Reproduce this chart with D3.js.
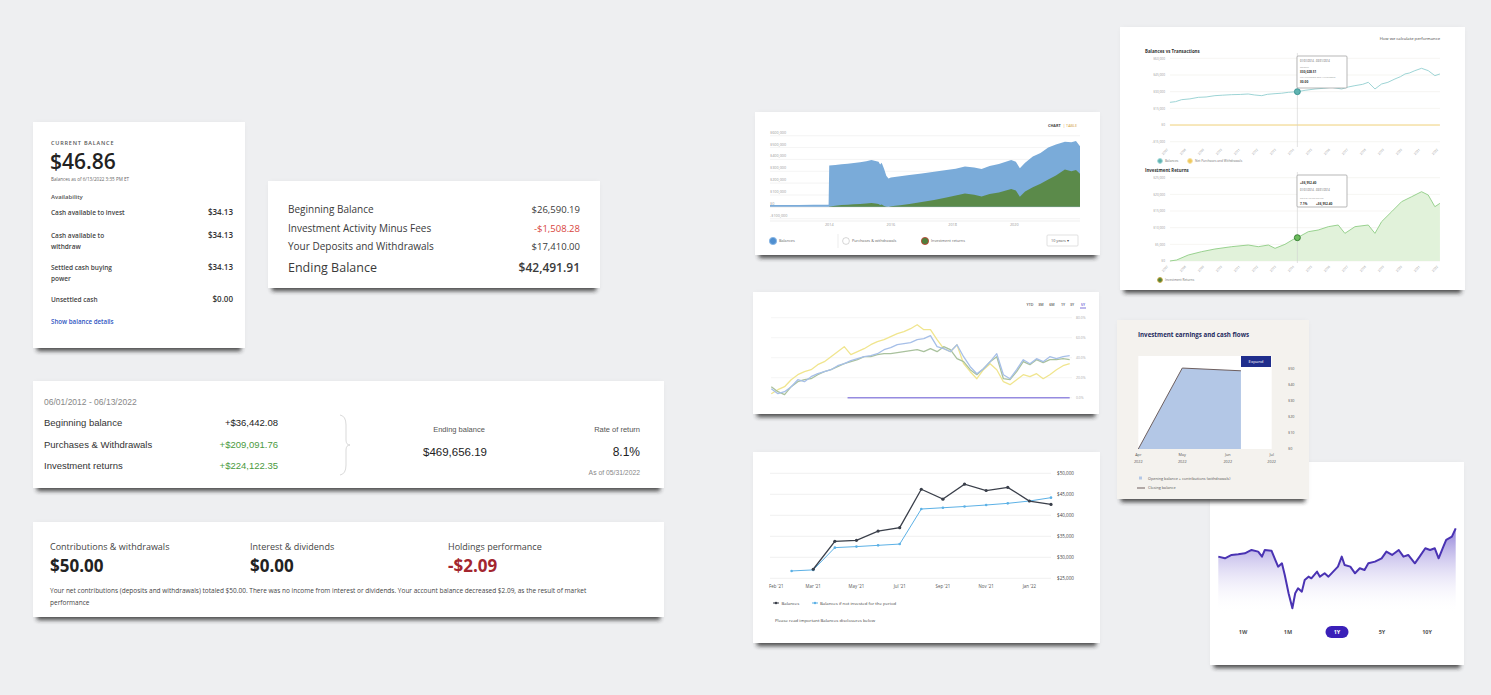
<!DOCTYPE html>
<html>
<head>
<meta charset="utf-8">
<script src="https://cdn.jsdelivr.net/npm/d3@7"></script>
<style>
  html, body { margin: 0; padding: 0; background: #eeeff1; }
  svg { display: block; }
</style>
</head>
<body>
<script>
// ---------------- data ----------------

// current balance card
const currentBalance = "$46.86";
const balanceStamp = "Balances as of 6/13/2022 3:35 PM ET";
const availLabels = [["Cash available to invest"], ["Cash available to", "withdraw"], ["Settled cash buying", "power"], ["Unsettled cash"]];
const availValues = ["$34.13", "$34.13", "$34.13", "$0.00"];

// statement card
const stmtLabels = ["Beginning Balance", "Investment Activity Minus Fees", "Your Deposits and Withdrawals", "Ending Balance"];
const stmtValues = ["$26,590.19", "-$1,508.28", "$17,410.00", "$42,491.91"];

// period card
const periodRange = "06/01/2012 - 06/13/2022";
const periodLabels = ["Beginning balance", "Purchases & Withdrawals", "Investment returns"];
const periodValues = ["+$36,442.08", "+$209,091.76", "+$224,122.35"];
const endingBalance = "$469,656.19";
const rateOfReturn = "8.1%";
const rateAsOf = "As of 05/31/2022";

// summary card
const summaryLabels = ["Contributions & withdrawals", "Interest & dividends", "Holdings performance"];
const summaryValues = ["$50.00", "$0.00", "-$2.09"];
const summaryNote = [
  "Your net contributions (deposits and withdrawals) totaled $50.00. There was no income from interest or dividends. Your account balance decreased $2.09, as the result of market",
  "performance"
];

// chart A: balances vs investment returns (thousands of $)
const histYears = [2012.08, 2012.5, 2013.0, 2013.5, 2013.98, 2014.0, 2014.2, 2014.4, 2014.6, 2014.8,
  2015.0, 2015.2, 2015.37, 2015.5, 2015.6, 2015.65, 2015.7, 2015.78, 2015.85, 2015.92,
  2016.0, 2016.3, 2016.6, 2017.0, 2017.4, 2017.8, 2018.1, 2018.4, 2018.7, 2018.94,
  2019.2, 2019.5, 2019.9, 2020.05, 2020.18, 2020.35, 2020.6, 2020.85, 2021.1, 2021.35,
  2021.64, 2021.85, 2022.0, 2022.13];
const histBalance = [15, 15, 16, 17, 18, 348, 352, 360, 364, 370,
  376, 384, 396, 386, 380, 358, 372, 320, 262, 240,
  248, 258, 268, 282, 296, 310, 322, 340, 332, 320,
  345, 362, 396, 380, 325, 372, 424, 455, 500, 525,
  550, 545, 556, 512];
const histReturns = [0, 0, 0, 0, 0, 3, 10, 15, 18, 22,
  24, 28, 33, 28, 25, 15, 20, 8, 2, 0,
  4, 14, 24, 40, 58, 78, 95, 112, 102, 88,
  108, 122, 150, 138, 85, 130, 165, 195, 230, 265,
  315, 300, 310, 280];
const histTicksY = [600, 500, 400, 300, 200, 100, 0, -100];
const histTicksX = [2014, 2016, 2018, 2020];
const histLegend = ["Balances", "Purchases & withdrawals", "Investment returns"];

// chart B: balances vs transactions / investment returns (thousands of $)
const perfYears = [2007.09, 2007.4, 2007.74, 2008.2, 2008.67, 2009.1, 2009.59, 2010.0, 2010.52, 2011.0,
  2011.44, 2011.8, 2012.19, 2012.5, 2012.93, 2013.3, 2013.67, 2014.17, 2014.6, 2015.15,
  2015.6, 2016.07, 2016.63, 2017.0, 2017.37, 2017.8, 2018.11, 2018.48, 2018.85, 2019.2,
  2019.59, 2019.9, 2020.15, 2020.4, 2020.7, 2021.07, 2021.44, 2021.81, 2022.09];
const perfBalance = [20.4, 21.0, 22.8, 23.5, 24.9, 25.2, 26.4, 26.8, 27.3, 27.5,
  27.9, 27.0, 26.4, 27.6, 28.2, 28.6, 29.4, 30.0, 31.2, 32.4,
  33.0, 33.9, 32.4, 34.2, 35.4, 36.6, 38.4, 32.4, 36.9, 38.4,
  41.4, 43.5, 45.9, 46.8, 48.9, 51.0, 48.9, 44.4, 45.9];
const flowYears = [2007.09, 2022.09];
const flowValues = [0, 0];
const retYears = [2007.09, 2007.46, 2008.11, 2008.85, 2009.59, 2010.52, 2011.44, 2012.0, 2012.56, 2012.93,
  2013.48, 2014.04, 2014.17, 2014.78, 2015.33, 2015.89, 2016.44, 2016.81, 2017.37, 2018.11,
  2018.48, 2018.85, 2019.41, 2019.96, 2020.52, 2021.07, 2021.44, 2021.81, 2022.09];
const retValues = [0, 0.3, 1.8, 2.8, 3.6, 4.3, 4.8, 4.3, 4.8, 3.8,
  5.0, 6.8, 7.0, 8.8, 9.3, 10.3, 10.8, 8.3, 10.3, 10.8,
  8.3, 11.8, 14.8, 17.8, 19.3, 20.8, 19.8, 16.3, 17.3];
const perfTicksX = [2007, 2008, 2009, 2010, 2011, 2012, 2013, 2014, 2015, 2016, 2017, 2018, 2019, 2020, 2021, 2022];
const balTicksY = [60, 45, 30, 15, 0, -15];
const retTicksY = [25, 20, 15, 10, 5, 0];
const markerYear = 2014.17;
const tipTop = ["01/01/2014 - 03/31/2014", "Balance", "$30,028.51", "Net Purchases and Withdrawals", "$0.00"];
const tipBottom = ["+$6,952.40", "01/01/2014 - 03/31/2014", "Rate of return", "Return", "7.1%", "+$6,952.40"];

// chart C: cumulative return comparison (%)
const compareYellow = [4, 8, 11, 18, 23, 26, 28, 33, 36, 41, 46, 51, 43, 46, 49, 53, 56, 58, 61, 64,
  66, 69, 73, 68, 68, 58, 49, 46, 53, 34, 26, 19, 28, 34, 28, 16, 13, 18, 23, 21,
  24, 19, 23, 28, 32, 34];
const compareBlue = [9, 4, 6, 11, 18, 16, 21, 24, 26, 28, 32, 34, 37, 39, 41, 42, 44, 48, 50, 53,
  54, 55, 58, 59, 62, 51, 49, 46, 53, 41, 31, 24, 29, 36, 44, 23, 19, 28, 38, 34,
  39, 36, 41, 39, 41, 42];
const compareGreen = [11, 6, 3, 11, 16, 18, 19, 23, 26, 28, 31, 34, 36, 38, 41, 41, 43, 44, 44, 45,
  46, 47, 48, 46, 49, 46, 51, 48, 39, 36, 28, 23, 29, 36, 41, 19, 18, 26, 36, 33,
  38, 35, 38, 38, 39, 38];
const compareTicks = [80, 60, 40, 20, 0];
const compareButtons = ["YTD", "3M", "6M", "1Y", "3Y", "5Y"];
const rangeBar = [11.5, 45];

// chart D: balances vs not invested (thousands of $)
const months = ["Jan '21", "Feb '21", "Mar '21", "Apr '21", "May '21", "Jun '21", "Jul '21",
  "Aug '21", "Sep '21", "Oct '21", "Nov '21", "Dec '21", "Jan '22", "Feb '22"];
const notInvestedMonths = months.slice(1);
const notInvested = [26.75, 27.0, 32.3, 32.55, 32.85, 33.15, 41.5, 41.8, 42.1, 42.45, 42.85, 43.4, 44.2];
const balanceMonths = months.slice(2);
const balances = [27.15, 33.8, 34.05, 36.25, 37.05, 46.2, 43.85, 47.4, 45.9, 46.65, 43.4, 42.6];
const balTicks = [50, 45, 40, 35, 30, 25];
const monthTicks = ["Feb '21", "Mar '21", "May '21", "Jul '21", "Sep '21", "Nov '21", "Jan '22"];
const monthTickSlots = ["Jan '21", "Mar '21", "May '21", "Jul '21", "Sep '21", "Nov '21", "Jan '22"];

// chart E: investment earnings and cash flows ($)
const flowDates = ["2022-04-01", "2022-05-01", "2022-06-10"];
const flowBalance = [0, 50.4, 48.7];
const earnTicksY = [50, 40, 30, 20, 10, 0];
const earnTicksX = ["2022-04-01", "2022-05-01", "2022-06-01", "2022-07-01"];

// chart F: one-year price index
const priceDays = [0, 7, 14, 21, 28, 35, 42, 46, 49, 56, 60, 63, 67, 70, 74, 78, 81, 84, 88, 91,
  95, 98, 104, 107, 112, 116, 121, 126, 130, 133, 139, 144, 149, 154, 158, 165, 172, 177, 183, 190,
  195, 200, 207, 212, 218, 223, 228, 232, 237, 240, 246, 250];
const priceValues = [210, 205, 215, 217, 220, 230, 225, 210, 230, 228, 200, 180, 190, 155, 100, 55, 100, 115, 105, 140,
  150, 145, 165, 150, 160, 150, 165, 180, 210, 185, 180, 160, 175, 170, 190, 195, 205, 225, 215, 230,
  210, 215, 190, 210, 235, 230, 235, 205, 240, 260, 270, 295];
const periodButtons = ["1W", "1M", "1Y", "5Y", "10Y"];

// ---------------- drawing ----------------
const W = 1491, H = 695;
const svg = d3.select("body").append("svg").attr("width", W).attr("height", H);
const defs = svg.append("defs");
defs.append("filter").attr("id", "drop").attr("x", "-5%").attr("y", "-150%").attr("width", "110%").attr("height", "400%")
  .append("feGaussianBlur").attr("stdDeviation", 2);
defs.append("filter").attr("id", "soft").attr("x", "-10%").attr("y", "-10%").attr("width", "120%").attr("height", "120%")
  .append("feGaussianBlur").attr("stdDeviation", 3);
const grad = defs.append("linearGradient").attr("id", "purpleFill").attr("x1", 0).attr("y1", 0).attr("x2", 0).attr("y2", 1);
grad.append("stop").attr("offset", "0%").attr("stop-color", "#7d6bd2").attr("stop-opacity", 0.85);
grad.append("stop").attr("offset", "100%").attr("stop-color", "#ffffff").attr("stop-opacity", 0);

svg.append("rect").attr("width", W).attr("height", H).attr("fill", "#eeeff1");

const SANS = "'Open Sans', sans-serif";
const ARIAL = "'Liberation Sans', Arial, sans-serif";

function card(x, y, w, h, fill) {
  const g = svg.append("g");
  g.append("rect").attr("x", x + 2).attr("y", y + 2).attr("width", w - 4).attr("height", h)
    .attr("fill", "#000").attr("opacity", 0.07).attr("filter", "url(#soft)");
  g.append("rect").attr("x", x + 4).attr("y", y + h - 4).attr("width", w - 8).attr("height", 7)
    .attr("fill", "#262626").attr("opacity", 0.8).attr("filter", "url(#drop)");
  g.append("rect").attr("x", x).attr("y", y).attr("width", w).attr("height", h).attr("fill", fill || "#fff");
  return g;
}

function label(g, x, y, text, size, opts = {}) {
  return g.append("text").attr("x", x).attr("y", y).text(text)
    .attr("font-size", size)
    .attr("font-family", opts.font || SANS)
    .attr("font-weight", opts.weight || 400)
    .attr("fill", opts.fill || "#333")
    .attr("text-anchor", opts.anchor || "start")
    .attr("letter-spacing", opts.spacing || null);
}

// ---- card 1: current balance
{
  const g = card(33, 122, 212, 226);
  label(g, 51, 145, "CURRENT BALANCE", 5.5, { weight: 600, fill: "#555", spacing: 0.8 });
  label(g, 50, 169, currentBalance, 21, { weight: 600, fill: "#222" });
  label(g, 51, 181, balanceStamp, 4.6, { fill: "#666" });
  label(g, 51, 199, "Availability", 6, { fill: "#555", weight: 600 });
  const rowY = [215, 238, 270, 302];
  availLabels.forEach((lines, i) => {
    lines.forEach((t, j) => label(g, 51, rowY[i] + j * 11, t, 6.5, { weight: 600, fill: "#444" }));
    label(g, 233, rowY[i], availValues[i], 8, { weight: 600, fill: "#333", anchor: "end" });
  });
  label(g, 51, 324, "Show balance details", 6.2, { weight: 600, fill: "#2f56c2" });
}

// ---- card 2: statement
{
  const g = card(268, 181, 332, 107);
  const rowY = [213, 232, 250, 272];
  stmtLabels.forEach((t, i) => {
    const last = i === stmtLabels.length - 1;
    label(g, 288, rowY[i], t, last ? 12.5 : 10, { fill: "#3a3a3a" });
    label(g, 580, rowY[i], stmtValues[i], last ? 12 : 9.5,
      { anchor: "end", weight: last ? 600 : 400, fill: stmtValues[i].startsWith("-") ? "#d8453c" : "#3a3a3a" });
  });
}

// ---- card 3: period
{
  const g = card(33, 381, 631, 107);
  label(g, 44, 405, periodRange, 8.5, { font: ARIAL, fill: "#888" });
  const rowY = [426, 448, 469];
  periodLabels.forEach((t, i) => {
    label(g, 44, rowY[i], t, 9.5, { font: ARIAL, fill: "#333" });
    label(g, 278, rowY[i], periodValues[i], 9.5,
      { font: ARIAL, anchor: "end", fill: i === 0 ? "#222" : "#4a9a3e" });
  });
  g.append("path")
    .attr("d", "M340,415 Q346,416 346,425 L346,440 Q346,445 350,445 Q346,445 346,450 L346,465 Q346,474 340,475")
    .attr("fill", "none").attr("stroke", "#cfcfcf").attr("stroke-width", 0.8);
  label(g, 459, 432, "Ending balance", 7.5, { font: ARIAL, anchor: "middle", fill: "#555" });
  label(g, 455, 456, endingBalance, 11.5, { font: ARIAL, anchor: "middle", fill: "#222" });
  label(g, 640, 432, "Rate of return", 7.5, { font: ARIAL, anchor: "end", fill: "#555" });
  label(g, 640, 456, rateOfReturn, 12, { font: ARIAL, anchor: "end", fill: "#222" });
  label(g, 640, 475, rateAsOf, 6.8, { font: ARIAL, anchor: "end", fill: "#888" });
}

// ---- card 4: summary
{
  const g = card(33, 522, 631, 95);
  const colX = [50, 250, 448];
  summaryLabels.forEach((t, i) => {
    label(g, colX[i], 550, t, 9, { fill: "#444" });
    label(g, colX[i], 572, summaryValues[i], 17, { weight: 700, fill: summaryValues[i].startsWith("-") ? "#a3262f" : "#222" });
  });
  summaryNote.forEach((t, i) => label(g, 50, 593 + i * 11.5, t, 6.5, { fill: "#444" }));
}

// ---- card 5: chart A (balances area)
{
  const g = card(755, 112, 345, 143);
  const x = d3.scaleLinear().domain([2012.08, 2022.13]).range([770, 1080]);
  const y = d3.scaleLinear().domain([-100, 600]).range([218.7, 135.7]);
  g.selectAll(".gridA").data(histTicksY).join("line")
    .attr("x1", 770).attr("x2", 1080).attr("y1", d => y(d)).attr("y2", d => y(d))
    .attr("stroke", d => d === 0 ? "#cfcfcf" : "#ececec").attr("stroke-width", 0.6);
  g.selectAll(".ylabA").data(histTicksY).join("text")
    .attr("x", 770).attr("y", d => y(d) - 2).attr("font-size", 3.8).attr("font-family", SANS).attr("fill", "#999")
    .text(d => (d < 0 ? "-$" : "$") + d3.format(",")(Math.abs(d) * 1000));
  const bal = histYears.map((yr, i) => ({ yr, v: histBalance[i] }));
  const ret = histYears.map((yr, i) => ({ yr, v: histReturns[i] }));
  const area = d3.area().x(d => x(d.yr)).y0(y(0)).y1(d => y(d.v));
  g.append("path").datum(bal).attr("d", area).attr("fill", "#7aabd9");
  g.append("path").datum(ret).attr("d", area).attr("fill", "#5b8a4a");
  g.append("line").attr("x1", 770).attr("x2", 1080).attr("y1", 221).attr("y2", 221).attr("stroke", "#ddd").attr("stroke-width", 0.5);
  g.selectAll(".xlabA").data(histTicksX).join("text")
    .attr("x", d => x(d)).attr("y", 226).attr("text-anchor", "middle")
    .attr("font-size", 3.8).attr("font-family", SANS).attr("fill", "#999").text(d => d);
  label(g, 1048, 127, "CHART", 3.8, { weight: 700, fill: "#444" });
  label(g, 1063, 127, "|  TABLE", 3.8, { fill: "#d4a13c" });
  // legend
  g.append("circle").attr("cx", 773).attr("cy", 241).attr("r", 3.6).attr("fill", "#4f8fd0").attr("stroke", "#8bb8e6");
  label(g, 779, 242.3, histLegend[0], 3.8, { fill: "#666" });
  g.append("line").attr("x1", 838).attr("x2", 838).attr("y1", 234).attr("y2", 248).attr("stroke", "#e0e0e0").attr("stroke-width", 0.6);
  g.append("circle").attr("cx", 846).attr("cy", 241).attr("r", 3.4).attr("fill", "#fff").attr("stroke", "#bbb").attr("stroke-width", 0.6);
  label(g, 852, 242.3, histLegend[1], 3.8, { fill: "#666" });
  g.append("circle").attr("cx", 925).attr("cy", 241).attr("r", 3.6).attr("fill", "#4f7f3c").attr("stroke", "#c0392b").attr("stroke-width", 0.8);
  label(g, 931, 242.3, histLegend[2], 3.8, { fill: "#666" });
  g.append("rect").attr("x", 1047).attr("y", 235).attr("width", 31).attr("height", 11).attr("fill", "#fff")
    .attr("stroke", "#cfcfcf").attr("stroke-width", 0.6).attr("rx", 1);
  label(g, 1051, 242.2, "10 years  \u25BE", 3.8, { fill: "#555" });
}

// ---- card 6: chart B (balances vs transactions, investment returns)
{
  const g = card(1120, 27, 345, 263);
  const x = d3.scaleLinear().domain([2007, 2022]).range([1168.3, 1438.3]);
  label(g, 1145, 52.5, "Balances vs Transactions", 4.4, { weight: 700, fill: "#333" });
  label(g, 1440, 40, "How we calculate performance", 4.2, { anchor: "end", fill: "#444" });
  label(g, 1145, 172, "Investment Returns", 4.4, { weight: 700, fill: "#333" });

  const money = d => (d < 0 ? "-$" : "$") + d3.format(",")(Math.abs(d) * 1000);
  function grid(yScale, ticks) {
    g.selectAll(null).data(ticks).join("line")
      .attr("x1", 1170).attr("x2", 1440).attr("y1", d => yScale(d)).attr("y2", d => yScale(d))
      .attr("stroke", "#ecebe4").attr("stroke-width", 0.5);
    g.selectAll(null).data(ticks).join("text")
      .attr("x", 1165).attr("y", d => yScale(d) + 1.2).attr("text-anchor", "end")
      .attr("font-size", 3.2).attr("font-family", SANS).attr("fill", "#999").text(money);
  }
  function xLabels(yPos) {
    g.selectAll(null).data(perfTicksX).join("text")
      .attr("transform", d => `translate(${x(d)},${yPos}) rotate(-45)`)
      .attr("text-anchor", "end").attr("font-size", 3.2).attr("font-family", SANS).attr("fill", "#999")
      .text(d => d);
  }

  // top panel
  const yT = d3.scaleLinear().domain([-15, 60]).range([141.7, 58.3]);
  grid(yT, balTicksY);
  const line = (ys) => d3.line().x(d => x(d[0])).y(d => ys(d[1]));
  g.append("path").datum(flowYears.map((v, i) => [v, flowValues[i]])).attr("d", line(yT))
    .attr("fill", "none").attr("stroke", "#f3d57e").attr("stroke-width", 1);
  g.append("path").datum(perfYears.map((v, i) => [v, perfBalance[i]])).attr("d", line(yT))
    .attr("fill", "none").attr("stroke", "#92cfd0").attr("stroke-width", 0.9);
  xLabels(150);
  g.append("line").attr("x1", x(markerYear)).attr("x2", x(markerYear)).attr("y1", 53).attr("y2", 147)
    .attr("stroke", "#d0d0d0").attr("stroke-width", 0.6);
  g.append("circle").attr("cx", x(markerYear)).attr("cy", yT(30.0)).attr("r", 3).attr("fill", "#5fb3b1")
    .attr("stroke", "#2f8c8a").attr("stroke-width", 0.8);
  // tooltip
  g.append("rect").attr("x", 1297).attr("y", 56).attr("width", 50).attr("height", 32).attr("fill", "#fff")
    .attr("stroke", "#9a9a9a").attr("stroke-width", 0.7).attr("rx", 1);
  label(g, 1300, 61.5, tipTop[0], 2.6, { fill: "#555" });
  label(g, 1300, 68, tipTop[1], 2.4, { fill: "#999" });
  label(g, 1300, 72.5, tipTop[2], 3.2, { weight: 700, fill: "#333" });
  label(g, 1300, 78, tipTop[3], 2.4, { fill: "#999" });
  label(g, 1300, 82.5, tipTop[4], 3.2, { weight: 700, fill: "#333" });
  // legend
  g.append("circle").attr("cx", 1160).attr("cy", 161).attr("r", 2.4).attr("fill", "#5fb3b1").attr("stroke", "#a8dada");
  label(g, 1165, 162.2, "Balances", 3.2, { fill: "#777" });
  g.append("circle").attr("cx", 1190).attr("cy", 161).attr("r", 2.4).attr("fill", "#f0c85a").attr("stroke", "#f7e2a6");
  label(g, 1195, 162.2, "Net Purchases and Withdrawals", 3.2, { fill: "#777" });

  // bottom panel
  const yB = d3.scaleLinear().domain([0, 25]).range([261, 177.7]);
  grid(yB, retTicksY);
  const rdata = retYears.map((v, i) => [v, retValues[i]]);
  g.append("path").datum(rdata)
    .attr("d", d3.area().x(d => x(d[0])).y0(yB(0)).y1(d => yB(d[1])))
    .attr("fill", "#e1f2da");
  g.append("path").datum(rdata).attr("d", line(yB)).attr("fill", "none").attr("stroke", "#8fcd85").attr("stroke-width", 0.9);
  xLabels(267);
  g.append("line").attr("x1", x(markerYear)).attr("x2", x(markerYear)).attr("y1", 172).attr("y2", 263)
    .attr("stroke", "#d0d0d0").attr("stroke-width", 0.6);
  g.append("circle").attr("cx", x(markerYear)).attr("cy", yB(7.0)).attr("r", 3).attr("fill", "#6dbb5e")
    .attr("stroke", "#2f7a2c").attr("stroke-width", 0.9);
  g.append("rect").attr("x", 1297).attr("y", 175).attr("width", 50).attr("height", 32).attr("fill", "#fff")
    .attr("stroke", "#9a9a9a").attr("stroke-width", 0.7).attr("rx", 1);
  label(g, 1300, 184, tipBottom[0], 3.2, { weight: 700, fill: "#333" });
  label(g, 1300, 191, tipBottom[1], 2.6, { fill: "#555" });
  label(g, 1300, 198.5, tipBottom[2], 2.4, { fill: "#999" });
  label(g, 1316, 198.5, tipBottom[3], 2.4, { fill: "#999" });
  label(g, 1300, 205, tipBottom[4], 3.2, { weight: 700, fill: "#333" });
  label(g, 1316, 205, tipBottom[5], 3.2, { weight: 700, fill: "#333" });
  g.append("circle").attr("cx", 1160).attr("cy", 280).attr("r", 2.4).attr("fill", "#4f7f3c").attr("stroke", "#c7a63a");
  label(g, 1165, 281.2, "Investment Returns", 3.2, { fill: "#777" });
}

// ---- card 7: chart C (return comparison)
{
  const g = card(753, 292, 346, 122);
  const idx = d3.range(compareBlue.length);
  const x = d3.scaleLinear().domain([0, idx.length - 1]).range([771.3, 1069.7]);
  const y = d3.scaleLinear().domain([0, 80]).range([397.7, 317.7]);
  g.selectAll(".gridC").data(compareTicks).join("line")
    .attr("x1", 771).attr("x2", 1072).attr("y1", d => y(d)).attr("y2", d => y(d))
    .attr("stroke", "#eeeeee").attr("stroke-width", 0.6);
  g.selectAll(".ylabC").data(compareTicks).join("text")
    .attr("x", 1076).attr("y", d => y(d) + 1.2).attr("font-size", 3.4).attr("font-family", SANS)
    .attr("fill", "#aaa").text(d => d.toFixed(1) + "%");
  g.append("line").attr("x1", x(rangeBar[0])).attr("x2", x(rangeBar[1])).attr("y1", y(0)).attr("y2", y(0))
    .attr("stroke", "#968be0").attr("stroke-width", 1.6);
  const ln = d3.line().x((d, i) => x(i)).y(d => y(d));
  [[compareYellow, "#f0e58e"], [compareGreen, "#a9c19d"], [compareBlue, "#a6bfe8"]].forEach(([s, c]) => {
    g.append("path").datum(s).attr("d", ln).attr("fill", "none").attr("stroke", c)
      .attr("stroke-width", 1.3).attr("stroke-linejoin", "round");
  });
  const bx = [1030, 1041, 1052, 1063, 1072, 1083];
  compareButtons.forEach((t, i) => {
    const last = i === compareButtons.length - 1;
    label(g, bx[i], 306, t, 3.6, { anchor: "middle", fill: last ? "#5b4fcf" : "#555", weight: 600 });
  });
  g.append("line").attr("x1", 1080).attr("x2", 1086).attr("y1", 308).attr("y2", 308).attr("stroke", "#5b4fcf").attr("stroke-width", 0.8);
}

// ---- card 8: chart D (balances line chart)
{
  const g = card(753, 452, 347, 191);
  const x = d3.scalePoint().domain(months).range([770, 1051]);
  const y = d3.scaleLinear().domain([25, 50]).range([578.3, 473.3]);
  g.selectAll(".gridD").data(balTicks).join("line")
    .attr("x1", 770).attr("x2", 1051).attr("y1", d => y(d)).attr("y2", d => y(d))
    .attr("stroke", "#e6e6e6").attr("stroke-width", 0.6);
  g.selectAll(".ylabD").data(balTicks).join("text")
    .attr("x", 1057).attr("y", d => y(d) + 1.6).attr("font-size", 4.6).attr("font-family", SANS)
    .attr("fill", "#444").text(d => "$" + d3.format(",")(d * 1000));
  g.selectAll(".xlabD").data(monthTicks).join("text")
    .attr("x", (d, i) => x(monthTickSlots[i]) + (i === 0 ? -1 : 0))
    .attr("y", 587.5).attr("text-anchor", (d, i) => i === 0 ? "start" : "middle")
    .attr("font-size", 4.4).attr("font-family", SANS).attr("fill", "#555").text(d => d);
  const blueData = notInvestedMonths.map((m, i) => [m, notInvested[i]]);
  const blackData = balanceMonths.map((m, i) => [m, balances[i]]);
  const ln = d3.line().x(d => x(d[0])).y(d => y(d[1]));
  g.append("path").datum(blueData).attr("d", ln).attr("fill", "none").attr("stroke", "#5cb1e6").attr("stroke-width", 1);
  g.selectAll(".dotB").data(blueData).join("circle").attr("cx", d => x(d[0])).attr("cy", d => y(d[1]))
    .attr("r", 1.3).attr("fill", "#5cb1e6");
  g.append("path").datum(blackData).attr("d", ln).attr("fill", "none").attr("stroke", "#3a3f4a").attr("stroke-width", 1.3);
  g.selectAll(".dotK").data(blackData).join("circle").attr("cx", d => x(d[0])).attr("cy", d => y(d[1]))
    .attr("r", 1.6).attr("fill", "#3a3f4a");
  // legend
  g.append("line").attr("x1", 773).attr("x2", 779).attr("y1", 603).attr("y2", 603).attr("stroke", "#3a3f4a").attr("stroke-width", 1);
  g.append("circle").attr("cx", 776).attr("cy", 603).attr("r", 1.3).attr("fill", "#3a3f4a");
  label(g, 781.5, 604.5, "Balances", 4.3, { fill: "#444" });
  g.append("line").attr("x1", 812).attr("x2", 818).attr("y1", 603).attr("y2", 603).attr("stroke", "#5cb1e6").attr("stroke-width", 1);
  g.append("circle").attr("cx", 815).attr("cy", 603).attr("r", 1.2).attr("fill", "#5cb1e6");
  label(g, 820, 604.5, "Balances if not invested for the period", 4.3, { fill: "#444" });
  label(g, 775, 621.5, "Please read important Balances disclosures below", 4.3, { fill: "#444" });
}

// ---- card 10: chart F (purple line)
{
  const g = card(1210, 462, 254, 203);
  const x = d3.scaleLinear().domain([0, 250]).range([1218.3, 1455.7]);
  const y = d3.scaleLinear().domain([40, 295]).range([613.3, 528.3]);
  const pts = priceDays.map((d, i) => [d, priceValues[i]]);
  g.append("path").datum(pts)
    .attr("d", d3.area().x(d => x(d[0])).y0(y(40)).y1(d => y(d[1])))
    .attr("fill", "url(#purpleFill)");
  g.append("path").datum(pts).attr("d", d3.line().x(d => x(d[0])).y(d => y(d[1])))
    .attr("fill", "none").attr("stroke", "#4a33b3").attr("stroke-width", 2).attr("stroke-linejoin", "round");
  const bx = [1243, 1288, 1337, 1382, 1427];
  periodButtons.forEach((t, i) => {
    if (t === "1Y") {
      g.append("rect").attr("x", bx[i] - 11.5).attr("y", 626).attr("width", 23).attr("height", 12)
        .attr("rx", 6).attr("fill", "#3a20b8");
    }
    label(g, bx[i], 634, t, 5.5, { anchor: "middle", weight: 700, fill: t === "1Y" ? "#fff" : "#555" });
  });
}

// ---- card 9: chart E (investment earnings and cash flows)
{
  const g = card(1117, 320, 192, 179, "#f4f2ee");
  label(g, 1138, 337, "Investment earnings and cash flows", 6.2, { weight: 700, fill: "#1e2a5e" });
  const parse = d3.timeParse("%Y-%m-%d");
  const x = d3.scaleTime().domain([parse("2022-04-01"), parse("2022-07-01")]).range([1138.3, 1271.7]);
  const y = d3.scaleLinear().domain([0, 50]).range([449, 368.7]);
  g.append("rect").attr("x", 1138.3).attr("y", 356).attr("width", 1271.7 - 1138.3).attr("height", 449 - 356).attr("fill", "#fff");
  const pts = flowDates.map((d, i) => [parse(d), flowBalance[i]]);
  g.append("path").datum(pts)
    .attr("d", d3.area().x(d => x(d[0])).y0(y(0)).y1(d => y(d[1])))
    .attr("fill", "#b3c7e6");
  g.append("path").datum(pts).attr("d", d3.line().x(d => x(d[0])).y(d => y(d[1])))
    .attr("fill", "none").attr("stroke", "#6e5f5f").attr("stroke-width", 1);
  g.append("rect").attr("x", 1241).attr("y", 356).attr("width", 30).attr("height", 11).attr("fill", "#1f2d8c");
  label(g, 1256, 363.3, "Expand", 4.3, { anchor: "middle", fill: "#fff" });
  g.selectAll(".ylabE").data(earnTicksY).join("text")
    .attr("x", 1288).attr("y", d => y(d) + 1.3).attr("font-size", 3.8).attr("font-family", SANS)
    .attr("fill", "#555").text(d => "$" + d);
  const fmtM = d3.timeFormat("%b"), fmtY = d3.timeFormat("%Y");
  earnTicksX.forEach(s => {
    const d = parse(s);
    label(g, x(d), 456, fmtM(d), 3.8, { anchor: "middle", fill: "#555" });
    label(g, x(d), 462.5, fmtY(d), 3.8, { anchor: "middle", fill: "#555" });
  });
  g.append("rect").attr("x", 1139).attr("y", 476.5).attr("width", 3).attr("height", 3).attr("fill", "#b3c7e6");
  label(g, 1148, 479.8, "Opening balance + contributions (withdrawals)", 3.8, { fill: "#555" });
  g.append("line").attr("x1", 1137).attr("x2", 1145).attr("y1", 488).attr("y2", 488).attr("stroke", "#6e5f5f").attr("stroke-width", 1);
  label(g, 1148, 489.3, "Closing balance", 3.8, { fill: "#555" });
}
</script>
</body>
</html>
